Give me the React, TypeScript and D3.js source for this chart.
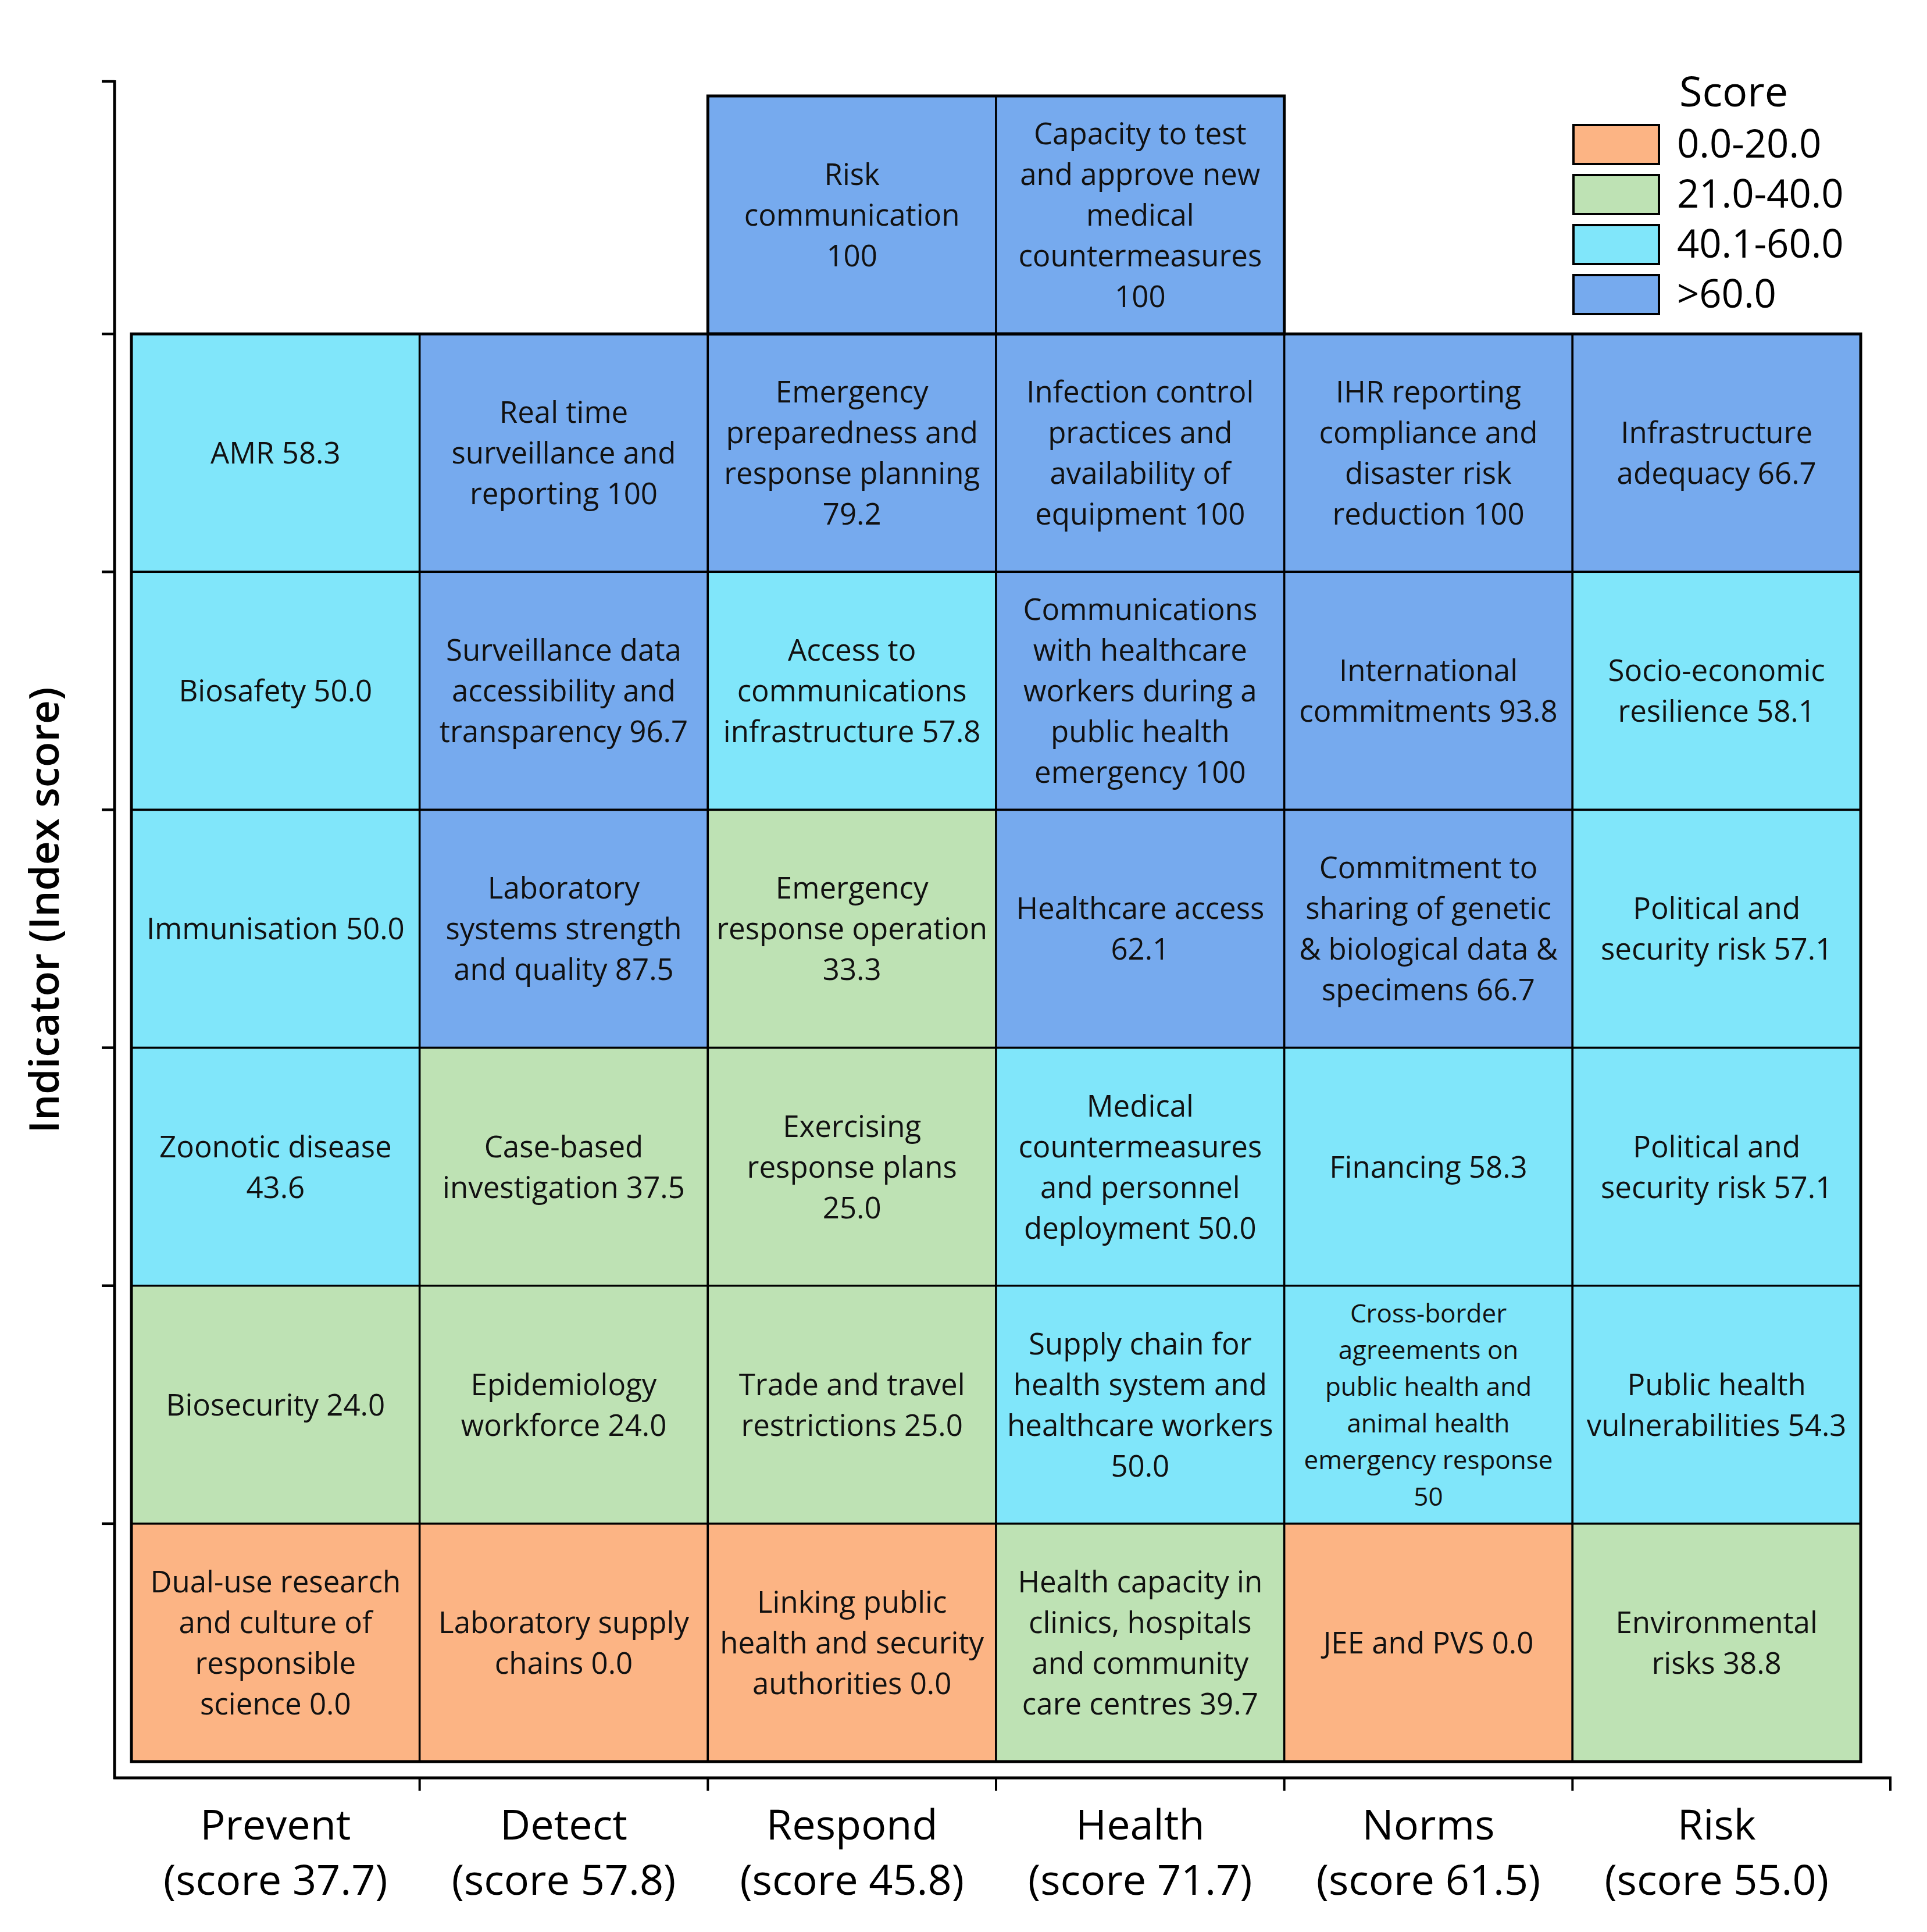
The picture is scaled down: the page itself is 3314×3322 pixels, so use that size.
import { useEffect, useRef } from "react";
import * as d3 from "d3";

// Pillars (columns) and their overall scores
const pillars = ["Prevent", "Detect", "Respond", "Health", "Norms", "Risk"];
const pillarScores = [37.7, 57.8, 45.8, 71.7, 61.5, 55.0];

// Rows, top to bottom (row 0 only used by Respond and Health)
const rowIds = [0, 1, 2, 3, 4, 5, 6];

// Indicator labels per pillar, one entry per row (null = no cell)
const preventLabels = [
  null,
  "AMR 58.3",
  "Biosafety 50.0",
  "Immunisation 50.0",
  "Zoonotic disease\n43.6",
  "Biosecurity 24.0",
  "Dual-use research\nand culture of\nresponsible\nscience 0.0",
];
const detectLabels = [
  null,
  "Real time\nsurveillance and\nreporting 100",
  "Surveillance data\naccessibility and\ntransparency 96.7",
  "Laboratory\nsystems strength\nand quality 87.5",
  "Case-based\ninvestigation 37.5",
  "Epidemiology\nworkforce 24.0",
  "Laboratory supply\nchains 0.0",
];
const respondLabels = [
  "Risk\ncommunication\n100",
  "Emergency\npreparedness and\nresponse planning\n79.2",
  "Access to\ncommunications\ninfrastructure 57.8",
  "Emergency\nresponse operation\n33.3",
  "Exercising\nresponse plans\n25.0",
  "Trade and travel\nrestrictions 25.0",
  "Linking public\nhealth and security\nauthorities 0.0",
];
const healthLabels = [
  "Capacity to test\nand approve new\nmedical\ncountermeasures\n100",
  "Infection control\npractices and\navailability of\nequipment 100",
  "Communications\nwith healthcare\nworkers during a\npublic health\nemergency 100",
  "Healthcare access\n62.1",
  "Medical\ncountermeasures\nand personnel\ndeployment 50.0",
  "Supply chain for\nhealth system and\nhealthcare workers\n50.0",
  "Health capacity in\nclinics, hospitals\nand community\ncare centres 39.7",
];
const normsLabels = [
  null,
  "IHR reporting\ncompliance and\ndisaster risk\nreduction 100",
  "International\ncommitments 93.8",
  "Commitment to\nsharing of genetic\n& biological data &\nspecimens 66.7",
  "Financing 58.3",
  "Cross-border\nagreements on\npublic health and\nanimal health\nemergency response\n50",
  "JEE and PVS 0.0",
];
const riskLabels = [
  null,
  "Infrastructure\nadequacy 66.7",
  "Socio-economic\nresilience 58.1",
  "Political and\nsecurity risk 57.1",
  "Political and\nsecurity risk 57.1",
  "Public health\nvulnerabilities 54.3",
  "Environmental\nrisks 38.8",
];

// Indicator scores per pillar, same row order
const preventScores = [null, 58.3, 50.0, 50.0, 43.6, 24.0, 0.0];
const detectScores = [null, 100, 96.7, 87.5, 37.5, 24.0, 0.0];
const respondScores = [100, 79.2, 57.8, 33.3, 25.0, 25.0, 0.0];
const healthScores = [100, 100, 100, 62.1, 50.0, 50.0, 39.7];
const normsScores = [null, 100, 93.8, 66.7, 58.3, 50, 0.0];
const riskScores = [null, 66.7, 58.1, 57.1, 57.1, 54.3, 38.8];

// Legend bins
const legendLabels = ["0.0-20.0", "21.0-40.0", "40.1-60.0", ">60.0"];
const legendThresholds = [20.5, 40.05, 60.05];
const legendColors = ["#FCB484", "#BEE2B4", "#80E6FA", "#76AAEE"];

const FONT = "'Open Sans', 'Noto Sans', sans-serif";
const W = 3314;
const H = 3322;

export default function App() {
  const svgRef = useRef<SVGSVGElement>(null);

  useEffect(() => {
    document.body.style.margin = "0";
    if (!svgRef.current) return;
    const svg = d3.select(svgRef.current);
    svg.selectAll("*").remove();

    const labels = [preventLabels, detectLabels, respondLabels, healthLabels, normsLabels, riskLabels];
    const scores = [preventScores, detectScores, respondScores, healthScores, normsScores, riskScores];

    const xScale = d3.scaleBand<string>().domain(pillars).range([226, 3200]);
    const yScale = d3.scaleBand<number>().domain(rowIds).range([165, 3029]);
    const color = d3.scaleThreshold<number, string>().domain(legendThresholds).range(legendColors);

    const axisLeft = 197;
    const axisTop = 140;
    const axisBottom = 3057;
    const axisRight = 3253;

    // ============ CELLS ============
    const cells = svg.append("g").attr("class", "cells");
    pillars.forEach((p, c) => {
      rowIds.forEach((r) => {
        const label = labels[c][r];
        const score = scores[c][r];
        if (label == null || score == null) return;
        const x = xScale(p) ?? 0;
        const y = yScale(r) ?? 0;
        const w = xScale.bandwidth();
        const h = yScale.bandwidth();
        cells.append("rect")
          .attr("x", x).attr("y", y)
          .attr("width", w).attr("height", h)
          .attr("fill", color(score))
          .attr("stroke", "#000")
          .attr("stroke-width", 3.5);

        const lines = label.split("\n");
        const small = lines.length > 5;
        const fs = small ? 44 : 51;
        const lh = small ? 63 : 70;
        const cx = x + w / 2;
        const cy = y + h / 2 + fs * 0.36;
        const t = cells.append("text")
          .attr("text-anchor", "middle")
          .attr("font-family", FONT)
          .attr("font-size", fs)
          .attr("fill", "#111");
        lines.forEach((ln, i) => {
          t.append("tspan")
            .attr("x", cx)
            .attr("y", cy + (i - (lines.length - 1) / 2) * lh)
            .text(ln);
        });
      });
    });

    // outer outlines (thicker)
    const gTop = yScale(0) ?? 0;
    const gMain = yScale(1) ?? 0;
    const gBottom = (yScale(6) ?? 0) + yScale.bandwidth();
    svg.append("rect")
      .attr("x", xScale("Prevent") ?? 0).attr("y", gMain)
      .attr("width", xScale.bandwidth() * pillars.length)
      .attr("height", gBottom - gMain)
      .attr("fill", "none").attr("stroke", "#000").attr("stroke-width", 5);
    svg.append("rect")
      .attr("x", xScale("Respond") ?? 0).attr("y", gTop)
      .attr("width", xScale.bandwidth() * 2)
      .attr("height", gMain - gTop)
      .attr("fill", "none").attr("stroke", "#000").attr("stroke-width", 5);

    // ============ AXES ============
    const axes = svg.append("g").attr("class", "axes").attr("stroke", "#000");
    axes.append("line")
      .attr("x1", axisLeft).attr("x2", axisLeft)
      .attr("y1", axisTop - 2).attr("y2", axisBottom + 2)
      .attr("stroke-width", 5);
    axes.append("line")
      .attr("x1", axisLeft - 2).attr("x2", axisRight)
      .attr("y1", axisBottom).attr("y2", axisBottom)
      .attr("stroke-width", 5);

    // y ticks at the axis top and row boundaries
    const yTicks = [axisTop, ...rowIds.slice(1).map((r) => yScale(r) ?? 0)];
    yTicks.forEach((ty) => {
      axes.append("line")
        .attr("x1", axisLeft - 22).attr("x2", axisLeft)
        .attr("y1", ty).attr("y2", ty)
        .attr("stroke-width", 4.5);
    });

    // x ticks at interior column boundaries and the axis end
    const xTicks = [...pillars.slice(1).map((p) => xScale(p) ?? 0), axisRight - 2];
    xTicks.forEach((tx) => {
      axes.append("line")
        .attr("x1", tx).attr("x2", tx)
        .attr("y1", axisBottom).attr("y2", axisBottom + 22)
        .attr("stroke-width", 4);
    });

    // pillar labels
    pillars.forEach((p, i) => {
      const cx = (xScale(p) ?? 0) + xScale.bandwidth() / 2;
      const t = svg.append("text")
        .attr("text-anchor", "middle")
        .attr("font-family", FONT)
        .attr("font-size", 72)
        .attr("fill", "#000");
      t.append("tspan").attr("x", cx).attr("y", 3163).text(p);
      t.append("tspan").attr("x", cx).attr("y", 3258).text(`(score ${pillarScores[i].toFixed(1)})`);
    });

    // y title
    svg.append("text")
      .attr("transform", `translate(101,1565) rotate(-90)`)
      .attr("text-anchor", "middle")
      .attr("font-family", FONT)
      .attr("font-size", 71)
      .attr("font-weight", 600)
      .attr("fill", "#000")
      .text("Indicator (Index score)");

    // ============ LEGEND ============
    const legendY = d3.scaleBand<string>()
      .domain(legendLabels)
      .range([215, 540])
      .paddingInner(0.221);
    const legend = svg.append("g").attr("class", "legend");
    legend.append("text")
      .attr("x", 2888).attr("y", 183)
      .attr("font-family", FONT)
      .attr("font-size", 72)
      .attr("fill", "#000")
      .text("Score");
    legendLabels.forEach((lab, i) => {
      const y = legendY(lab) ?? 0;
      legend.append("rect")
        .attr("x", 2706).attr("y", y)
        .attr("width", 147).attr("height", legendY.bandwidth())
        .attr("fill", legendColors[i])
        .attr("stroke", "#000")
        .attr("stroke-width", 4);
      legend.append("text")
        .attr("x", 2884).attr("y", y + 56)
        .attr("font-family", FONT)
        .attr("font-size", 67)
        .attr("fill", "#000")
        .text(lab);
    });
  }, []);

  return (
    <svg
      ref={svgRef}
      width={W}
      height={H}
      viewBox={`0 0 ${W} ${H}`}
      style={{ display: "block", background: "#fff" }}
    />
  );
}
